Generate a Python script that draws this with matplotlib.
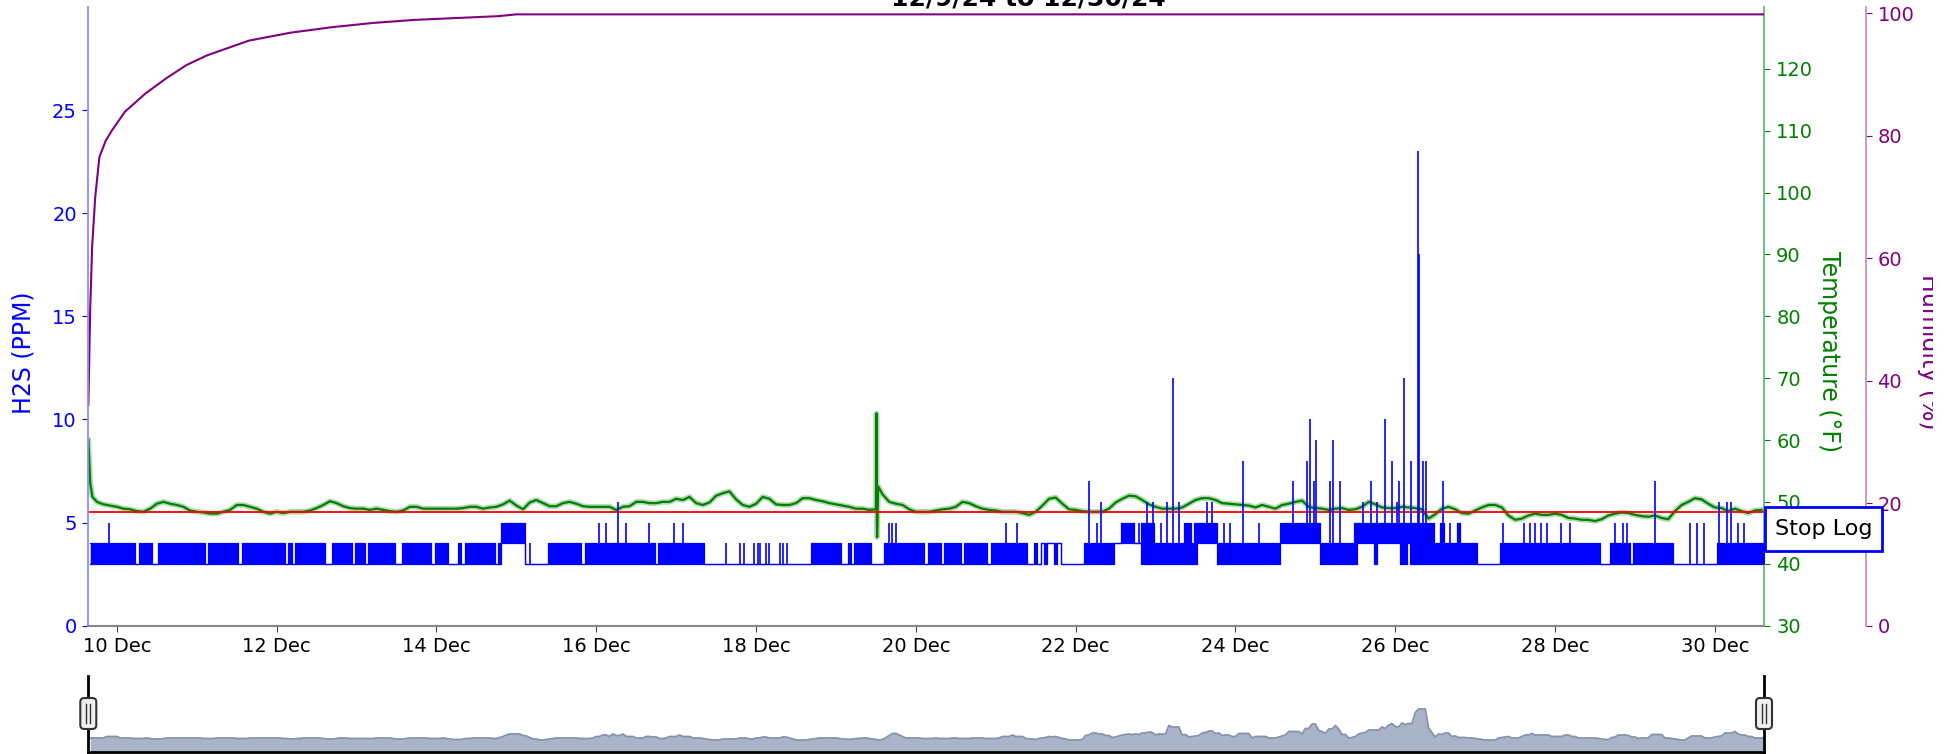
import matplotlib
matplotlib.use("Agg")
import matplotlib.pyplot as plt
import matplotlib.dates as mdates
from matplotlib.patches import FancyBboxPatch, Rectangle
from matplotlib.lines import Line2D
from matplotlib.transforms import IdentityTransform, Bbox
import pandas as pd

title = "12/9/24 to 12/30/24"
x_range = ["2024-12-09 15:25", "2024-12-30 14:45"]

# H2S, hourly band of readings (max / min) from 9 Dec 16:00
h2s_start = "2024-12-09 16:00"
h2s_max = [
    4, 4, 4, 4, 4, 4, 4, 4,                                                    # 9 Dec 16-23h
    4, 4, 4, 4, 4, 4, 3, 4, 4, 4, 4, 3, 3, 4, 4, 4, 4, 4, 4, 4, 4, 4, 4, 4,    # 10 Dec
    4, 4, 4, 3, 4, 4, 4, 4, 4, 4, 4, 4, 4, 3, 4, 4, 4, 4, 4, 4, 4, 4, 4, 4,    # 11 Dec
    4, 4, 4, 3, 4, 3, 4, 4, 4, 4, 4, 4, 4, 4, 4, 3, 3, 4, 4, 4, 4, 4, 4, 3,    # 12 Dec
    4, 4, 4, 3, 4, 4, 4, 4, 4, 4, 4, 4, 3, 3, 4, 4, 4, 4, 4, 4, 4, 4, 4, 3,    # 13 Dec
    4, 4, 4, 4, 3, 3, 3, 4, 3, 4, 4, 4, 4, 4, 4, 4, 4, 4, 3, 4, 5, 5, 5, 5,    # 14 Dec
    5, 5, 5, 3, 3, 3, 3, 3, 3, 3, 4, 4, 4, 4, 4, 4, 4, 4, 4, 4, 3, 4, 4, 4,    # 15 Dec
    4, 4, 4, 4, 4, 4, 4, 4, 4, 4, 4, 4, 4, 4, 4, 4, 4, 4, 3, 4, 4, 4, 4, 4,    # 16 Dec
    4, 4, 4, 4, 4, 4, 4, 4, 4, 3, 3, 3, 3, 3, 3, 3, 3, 3, 3, 3, 3, 3, 3, 3,    # 17 Dec
    3, 3, 3, 3, 3, 3, 3, 3, 3, 3, 3, 3, 3, 3, 3, 3, 3, 4, 4, 4, 4, 4, 4, 4,    # 18 Dec
    4, 4, 3, 3, 4, 3, 4, 4, 4, 4, 4, 3, 3, 3, 3, 4, 4, 4, 4, 4, 4, 4, 4, 4,    # 19 Dec
    4, 4, 4, 3, 4, 4, 4, 4, 3, 4, 4, 4, 4, 4, 3, 4, 4, 4, 4, 4, 4, 4, 3, 4,    # 20 Dec
    4, 4, 4, 4, 4, 4, 4, 4, 4, 4, 3, 3, 4, 3, 4, 4, 4, 4, 4, 4, 3, 3, 3, 3,    # 21 Dec
    3, 3, 3, 4, 4, 4, 4, 4, 4, 4, 4, 4, 4, 4, 5, 5, 5, 5, 4, 4, 5, 5, 5, 5,    # 22 Dec
    4, 4, 4, 4, 4, 4, 4, 4, 4, 5, 5, 4, 5, 5, 5, 5, 5, 5, 5, 4, 4, 4, 4, 4,    # 23 Dec
    4, 4, 4, 4, 4, 4, 4, 4, 4, 4, 4, 4, 4, 4, 5, 5, 5, 5, 5, 5, 5, 5, 5, 5,    # 24 Dec
    5, 5, 4, 4, 4, 4, 4, 4, 4, 4, 4, 4, 5, 5, 5, 5, 5, 5, 5, 5, 5, 5, 5, 5,    # 25 Dec
    5, 5, 5, 5, 5, 5, 5, 5, 5, 5, 5, 5, 4, 4, 5, 4, 4, 4, 4, 5, 4, 4, 4, 4,    # 26 Dec
    4, 3, 3, 3, 3, 3, 3, 3, 4, 4, 4, 4, 4, 4, 4, 4, 4, 4, 4, 4, 4, 4, 4, 4,    # 27 Dec
    4, 4, 4, 4, 4, 4, 4, 4, 4, 4, 4, 4, 4, 4, 3, 3, 3, 4, 4, 4, 4, 4, 4, 3,    # 28 Dec
    4, 4, 4, 4, 4, 4, 4, 4, 4, 4, 4, 4, 3, 3, 3, 3, 3, 3, 3, 3, 3, 3, 3, 3,    # 29 Dec
    3, 4, 4, 4, 4, 4, 4, 4, 4, 4, 4, 4, 4, 4, 4, 4,                            # 30 Dec 0-15h
]
h2s_min = [
    3, 3, 3, 3, 3, 3, 3, 3,                                                    # 9 Dec
    3, 3, 3, 3, 3, 3, 3, 3, 3, 3, 3, 3, 3, 3, 3, 3, 3, 3, 3, 3, 3, 3, 3, 3,    # 10 Dec
    3, 3, 3, 3, 3, 3, 3, 3, 3, 3, 3, 3, 3, 3, 3, 3, 3, 3, 3, 3, 3, 3, 3, 3,    # 11 Dec
    3, 3, 3, 3, 3, 3, 3, 3, 3, 3, 3, 3, 3, 3, 3, 3, 3, 3, 3, 3, 3, 3, 3, 3,    # 12 Dec
    3, 3, 3, 3, 3, 3, 3, 3, 3, 3, 3, 3, 3, 3, 3, 3, 3, 3, 3, 3, 3, 3, 3, 3,    # 13 Dec
    3, 3, 3, 3, 3, 3, 3, 3, 3, 3, 3, 3, 3, 3, 3, 3, 3, 3, 3, 3, 4, 4, 4, 4,    # 14 Dec
    4, 4, 4, 3, 3, 3, 3, 3, 3, 3, 3, 3, 3, 3, 3, 3, 3, 3, 3, 3, 3, 3, 3, 3,    # 15 Dec
    3, 3, 3, 3, 3, 3, 3, 3, 3, 3, 3, 3, 3, 3, 3, 3, 3, 3, 3, 3, 3, 3, 3, 3,    # 16 Dec
    3, 3, 3, 3, 3, 3, 3, 3, 3, 3, 3, 3, 3, 3, 3, 3, 3, 3, 3, 3, 3, 3, 3, 3,    # 17 Dec
    3, 3, 3, 3, 3, 3, 3, 3, 3, 3, 3, 3, 3, 3, 3, 3, 3, 3, 3, 3, 3, 3, 3, 3,    # 18 Dec
    3, 3, 3, 3, 3, 3, 3, 3, 3, 3, 3, 3, 3, 3, 3, 3, 3, 3, 3, 3, 3, 3, 3, 3,    # 19 Dec
    3, 3, 3, 3, 3, 3, 3, 3, 3, 3, 3, 3, 3, 3, 3, 3, 3, 3, 3, 3, 3, 3, 3, 3,    # 20 Dec
    3, 3, 3, 3, 3, 3, 3, 3, 3, 3, 3, 3, 3, 3, 4, 3, 4, 4, 3, 4, 3, 3, 3, 3,    # 21 Dec
    3, 3, 3, 3, 3, 3, 3, 3, 3, 3, 3, 3, 4, 4, 4, 4, 4, 4, 4, 4, 3, 3, 3, 3,    # 22 Dec
    3, 3, 3, 3, 3, 3, 3, 3, 3, 3, 3, 3, 3, 4, 4, 4, 4, 4, 4, 3, 3, 3, 3, 3,    # 23 Dec
    3, 3, 3, 3, 3, 3, 3, 3, 3, 3, 3, 3, 3, 3, 4, 4, 4, 4, 4, 4, 4, 4, 4, 4,    # 24 Dec
    4, 4, 3, 3, 3, 3, 3, 3, 3, 3, 3, 3, 3, 4, 4, 4, 4, 4, 3, 4, 4, 4, 4, 4,    # 25 Dec
    4, 4, 3, 3, 4, 3, 3, 3, 3, 3, 3, 3, 3, 3, 3, 3, 3, 3, 3, 3, 3, 3, 3, 3,    # 26 Dec
    3, 3, 3, 3, 3, 3, 3, 3, 3, 3, 3, 3, 3, 3, 3, 3, 3, 3, 3, 3, 3, 3, 3, 3,    # 27 Dec
    3, 3, 3, 3, 3, 3, 3, 3, 3, 3, 3, 3, 3, 3, 3, 3, 3, 3, 3, 3, 3, 3, 3, 3,    # 28 Dec
    3, 3, 3, 3, 3, 3, 3, 3, 3, 3, 3, 3, 3, 3, 3, 3, 3, 3, 3, 3, 3, 3, 3, 3,    # 29 Dec
    3, 3, 3, 3, 3, 3, 3, 3, 3, 3, 3, 3, 3, 3, 3, 3,                            # 30 Dec
]
# brief H2S peaks above the band
peak_times = [
    "2024-12-09 21:40", "2024-12-15 04:05",
    "2024-12-16 00:45", "2024-12-16 02:50", "2024-12-16 06:30", "2024-12-16 08:50",
    "2024-12-16 15:50", "2024-12-16 23:15", "2024-12-17 01:55", "2024-12-17 14:50",
    "2024-12-17 19:10", "2024-12-17 20:25", "2024-12-17 23:30", "2024-12-18 00:30",
    "2024-12-18 01:10", "2024-12-18 02:50", "2024-12-18 03:50", "2024-12-18 07:10",
    "2024-12-18 08:10", "2024-12-18 09:10", "2024-12-19 15:50", "2024-12-19 16:50",
    "2024-12-19 18:00", "2024-12-21 03:05", "2024-12-21 06:30", "2024-12-22 04:05",
    "2024-12-22 06:30", "2024-12-22 07:40", "2024-12-22 19:10", "2024-12-22 21:20",
    "2024-12-22 23:15", "2024-12-23 01:40", "2024-12-23 03:20", "2024-12-23 05:20",
    "2024-12-23 07:10", "2024-12-23 15:20", "2024-12-23 16:50", "2024-12-23 20:25",
    "2024-12-23 22:20", "2024-12-24 02:10", "2024-12-24 07:10", "2024-12-24 17:15",
    "2024-12-24 21:35", "2024-12-24 22:20", "2024-12-24 23:30", "2024-12-25 00:05",
    "2024-12-25 04:20", "2024-12-25 05:20", "2024-12-25 07:25", "2024-12-25 14:25",
    "2024-12-25 16:50", "2024-12-25 18:30", "2024-12-25 20:50", "2024-12-25 23:00",
    "2024-12-26 00:30", "2024-12-26 01:10", "2024-12-26 02:40", "2024-12-26 04:50",
    "2024-12-26 06:58", "2024-12-26 07:10", "2024-12-26 08:25", "2024-12-26 09:10",
    "2024-12-26 14:25", "2024-12-26 16:20", "2024-12-27 08:25", "2024-12-27 14:40",
    "2024-12-27 16:20", "2024-12-27 18:00", "2024-12-27 19:55", "2024-12-27 21:35",
    "2024-12-28 01:55", "2024-12-28 04:20", "2024-12-28 18:00", "2024-12-28 20:25",
    "2024-12-28 21:35", "2024-12-29 06:00", "2024-12-29 16:35", "2024-12-29 18:30",
    "2024-12-29 20:50", "2024-12-30 01:10", "2024-12-30 03:35", "2024-12-30 04:50",
    "2024-12-30 07:00", "2024-12-30 08:40",
]
peak_ppm = [
    5, 4,
    5, 5, 6, 5,
    5, 5, 5, 4,
    4, 4, 4, 4,
    4, 4, 4, 4,
    4, 4, 5, 5,
    5, 5, 5, 7,
    5, 6, 5, 6,
    6, 5, 6, 12,
    6, 6, 6, 5,
    5, 8, 5, 7,
    8, 10, 7, 9,
    7, 9, 7, 6,
    7, 6, 10, 8,
    6, 7, 12, 8,
    23, 18, 8, 8,
    7, 5, 5, 5,
    5, 5, 5, 5,
    5, 5, 5, 5,
    5, 7, 5, 5,
    5, 6, 6, 6,
    5, 5,
]
h2s_limit = 5.5

# temperature, every 2 hours from 9 Dec 16:00
temp_start = "2024-12-09 16:00"
temp_f = [
    53.0, 50.0, 49.6, 49.4, 49.2, 48.9, 48.8, 48.5, 48.4, 48.9, 49.7, 50.0,
    49.7, 49.5, 49.2, 48.6, 48.4, 48.3, 48.1, 48.1, 48.4, 48.7, 49.5, 49.5,
    49.2, 48.9, 48.4, 48.1, 48.4, 48.2, 48.4, 48.4, 48.4, 48.6, 49.0, 49.5,
    50.1, 49.8, 49.3, 49.0, 48.9, 48.9, 48.7, 48.9, 48.7, 48.5, 48.4, 48.6,
    49.2, 49.2, 48.9, 48.9, 48.9, 48.9, 48.9, 48.9, 49.0, 49.2, 49.2, 48.9,
    49.1, 49.2, 49.6, 50.2, 49.4, 48.8, 49.9, 50.3, 49.8, 49.3, 49.3, 49.8,
    50.0, 49.7, 49.3, 49.2, 49.2, 49.2, 49.2, 48.7, 49.2, 49.3, 50.0, 50.0,
    49.8, 49.8, 50.0, 50.0, 50.5, 50.3, 50.8, 49.8, 49.5, 49.9, 51.0, 51.4,
    51.7, 50.4, 49.5, 49.2, 49.7, 50.8, 50.5, 49.6, 49.5, 49.5, 49.8, 50.6,
    50.6, 50.3, 50.1, 49.8, 49.6, 49.4, 49.2, 48.9, 48.9, 48.7, 48.8, 51.2,
    50.0, 49.7, 49.5, 48.8, 48.4, 48.4, 48.4, 48.6, 48.8, 48.9, 49.2, 50.0,
    49.8, 49.3, 48.9, 48.7, 48.6, 48.4, 48.4, 48.4, 48.2, 47.9, 48.4, 49.4,
    50.5, 50.7, 49.7, 48.8, 48.7, 48.5, 48.4, 48.4, 48.4, 48.9, 49.9, 50.5,
    51.0, 50.9, 50.3, 49.6, 49.2, 48.9, 48.9, 48.9, 49.1, 49.7, 50.3, 50.6,
    50.6, 50.3, 49.8, 49.7, 49.6, 49.5, 49.4, 49.1, 49.5, 49.2, 48.9, 49.5,
    49.7, 50.0, 50.2, 49.2, 49.0, 48.9, 48.7, 48.9, 49.0, 48.7, 48.8, 49.2,
    50.0, 49.6, 49.1, 49.0, 49.0, 49.2, 49.1, 49.0, 48.8, 47.3, 48.0, 48.9,
    49.2, 48.8, 48.2, 48.1, 48.6, 49.1, 49.5, 49.5, 49.1, 47.8, 47.1, 47.3,
    47.8, 48.1, 47.9, 47.9, 48.1, 47.9, 47.4, 47.3, 47.1, 47.1, 46.9, 47.2,
    47.8, 48.1, 48.3, 48.2, 47.9, 47.7, 47.6, 47.8, 47.4, 47.2, 48.5, 49.5,
    50.0, 50.6, 50.4, 49.7, 49.1, 49.0, 48.5, 48.9, 48.5, 48.2, 48.6, 48.7,
]
# extra temperature readings (warm-up and the 19 Dec spike)
temp_extra_times = ["2024-12-09 15:26", "2024-12-09 16:40", "2024-12-19 12:10",
                    "2024-12-19 12:20", "2024-12-19 12:40"]
temp_extra_f = [60.0, 50.8, 64.3, 44.3, 52.5]

humidity_times = [
    "2024-12-09 15:26", "2024-12-09 16:00", "2024-12-09 16:35", "2024-12-09 17:30",
    "2024-12-09 18:45", "2024-12-09 20:40", "2024-12-09 22:35", "2024-12-10 02:25",
    "2024-12-10 08:25", "2024-12-10 14:40", "2024-12-10 20:50", "2024-12-11 03:05",
    "2024-12-11 15:35", "2024-12-12 04:05", "2024-12-12 16:35", "2024-12-13 05:00",
    "2024-12-13 17:30", "2024-12-14 06:00", "2024-12-14 18:30", "2024-12-15 00:00",
    "2024-12-30 15:00",
]
humidity_pct = [36.0, 52.0, 62.0, 70.0, 76.5, 79.2, 80.9, 83.9, 86.8, 89.3, 91.5,
                93.1, 95.5, 96.8, 97.7, 98.4, 98.9, 99.2, 99.5, 99.8, 99.8]

t_h2s = pd.date_range(h2s_start, periods=len(h2s_max), freq="h")
h2s = pd.DataFrame({"lo": h2s_min, "hi": h2s_max}, index=t_h2s)
peaks = pd.Series(peak_ppm, index=pd.to_datetime(peak_times))
peak_base = h2s["lo"].reindex(peaks.index, method="nearest")

temp = pd.concat([
    pd.Series(temp_f, index=pd.date_range(temp_start, periods=len(temp_f), freq="2h")),
    pd.Series(temp_extra_f, index=pd.to_datetime(temp_extra_times)),
]).sort_index()
hum = pd.Series(humidity_pct, index=pd.to_datetime(humidity_times))

# overview for the range slider: band middle, raised to any peak in that hour
mid = (h2s["lo"] + h2s["hi"]) / 2
hourly_peak = peaks.groupby(peaks.index.round("h")).max().reindex(t_h2s)
overview = pd.concat([mid, hourly_peak], axis=1).max(axis=1)
overview = overview.rolling(4, center=True, min_periods=1).mean()
xlim = pd.to_datetime(x_range)

W, H = 1950, 754
fig = plt.figure(figsize=(W / 100, H / 100), dpi=100, facecolor="white")
L, R, T, B = 88.3, 1764, 7, 625.6
ax = fig.add_axes([L / W, 1 - B / H, (R - L) / W, (B - T) / H])
ax_t = ax.twinx()
ax_h = ax.twinx()
ax_h.spines["right"].set_position(("axes", (1866 - L) / (R - L)))

ax.set_zorder(3)
ax.patch.set_visible(False)
ax_t.set_zorder(1)
ax_h.set_zorder(2)

# soft halo under the temperature trace to suggest the sensor noise
ax_t.plot(temp.index, temp.values, color="#008000", lw=4.0, alpha=0.3)
ax_t.plot(temp.index, temp.values, color="#008000", lw=1.6)
ax_h.plot(hum.index, hum.values, color="#800080", lw=1.5)
ax.axhline(h2s_limit, color="#ff0000", lw=1.3, zorder=1)
ax.fill_between(h2s.index, h2s["lo"], h2s["hi"], step="mid", color="#0000ff", lw=0, zorder=2)
ax.step(h2s.index, h2s["hi"], where="mid", color="#0000ff", lw=0.9, zorder=2)
ax.step(h2s.index, h2s["lo"], where="mid", color="#0000ff", lw=0.9, zorder=2)
ax.vlines(peaks.index, peak_base.values, peaks.values, color="#0000ff", lw=1.2, zorder=2)

ax.set_xlim(xlim)
ax.set_ylim(0, 30)
ax.set_yticks(range(0, 30, 5))
ax_t.set_ylim(30, 130)
ax_t.set_yticks(range(30, 130, 10))
ax_h.set_ylim(0, 101)
ax_h.set_yticks(range(0, 101, 20))

ax.xaxis.set_major_locator(mdates.DayLocator(bymonthday=range(10, 31, 2)))
ax.xaxis.set_major_formatter(mdates.DateFormatter("%d %b"))
ax.tick_params(axis="x", color="#444444", labelcolor="black", labelsize=14, length=4.3, pad=4)
ax.tick_params(axis="y", color="#0000ff", labelcolor="#0000ff", labelsize=14, length=4.3, pad=4)
ax_t.tick_params(axis="y", color="#008000", labelcolor="#008000", labelsize=14, length=4.3, pad=4.5)
ax_h.tick_params(axis="y", color="#800080", labelcolor="#800080", labelsize=14, length=4.3, pad=4)
for a in (ax_t, ax_h):
    a.tick_params(axis="x", bottom=False, labelbottom=False)

for s in ("top", "right"):
    ax.spines[s].set_visible(False)
ax.spines["left"].set_color("#8c8cff")
ax.spines["left"].set_linewidth(1.3)
ax.spines["bottom"].set_color("#888888")
ax.spines["bottom"].set_linewidth(1.5)
for a, c in ((ax_t, "#6cb86c"), (ax_h, "#c690c6")):
    for s in ("top", "left", "bottom"):
        a.spines[s].set_visible(False)
    a.spines["right"].set_color(c)
    a.spines["right"].set_linewidth(1.3)

fig.text(1028 / W, 1 - 5 / H, title, ha="center", va="baseline", fontsize=18, fontweight="bold")
fig.text(23 / W, 1 - 353 / H, "H2S (PPM)", rotation=90, ha="center", va="center",
         fontsize=17, color="#0000ff")
fig.text(1829 / W, 1 - 352 / H, "Temperature (°F)", rotation=-90, ha="center", va="center",
         fontsize=17, color="#008000")
hl = fig.text(1929 / W, 1 - 352 / H, "Humidity (%)", rotation=-90, ha="center", va="center",
              fontsize=17, color="#800080")
hl.set_clip_box(Bbox.from_extents(0, 0, 1933, H))
hl.set_clip_on(True)

# "Stop Log" marker box at the right end
fig.add_artist(Rectangle((1765, H - 551), 117, 44, transform=IdentityTransform(),
                         fc="white", ec="#0000ff", lw=2, zorder=9))
fig.text(1823.5 / W, 1 - 529 / H, "Stop Log", ha="center", va="center", fontsize=16,
         color="black", zorder=10)

# range slider strip
sl = fig.add_axes([L / W, 1 - 752 / H, (R - L) / W, 76 / H])
sl.fill_between(overview.index, overview.values, color="#aab4c9", lw=0)
sl.plot(overview.index, overview.values, color="#8592ab", lw=1.3)
sl.set_xlim(xlim)
sl.set_ylim(0, 19)
sl.set_xticks([])
sl.set_yticks([])
sl.spines["top"].set_visible(False)
for s in ("left", "right", "bottom"):
    sl.spines[s].set_color("black")
    sl.spines[s].set_linewidth(2)

for xc in (L, R):
    fig.add_artist(FancyBboxPatch((xc - 8, H - 729), 16, 31,
                                  boxstyle="round,pad=0,rounding_size=4",
                                  transform=IdentityTransform(), fc="#f0f0f0",
                                  ec="#333333", lw=1.5, zorder=6))
    for dx in (-2, 2):
        fig.add_artist(Line2D([xc + dx, xc + dx], [H - 723, H - 704],
                              transform=IdentityTransform(), color="#333333",
                              lw=1, zorder=7))

fig.savefig("out.png", dpi=100, facecolor="white")
